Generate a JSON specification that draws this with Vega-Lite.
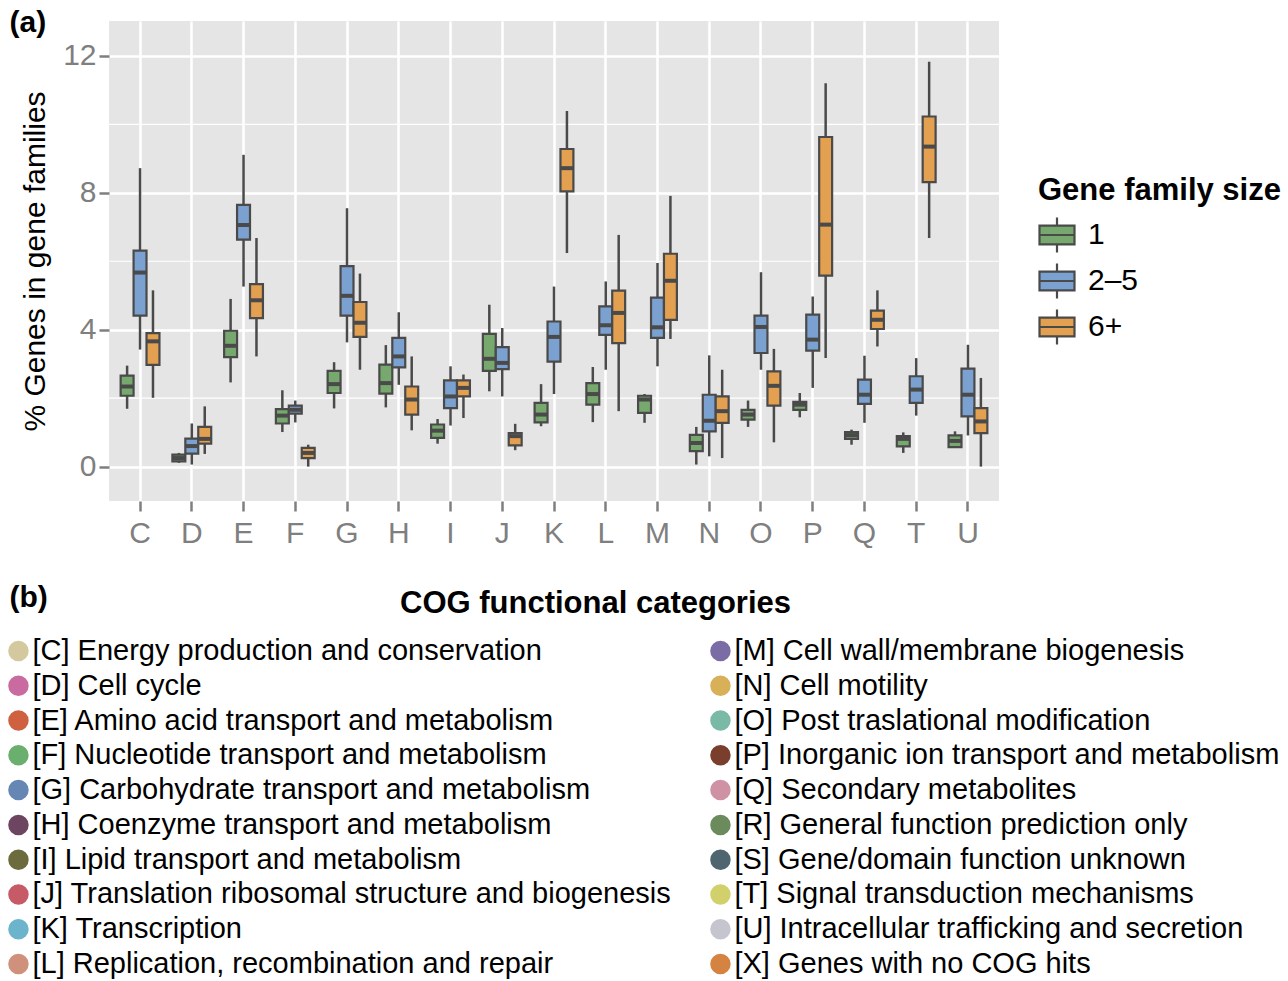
{
  "$schema": "https://vega.github.io/schema/vega-lite/v6.json",
  "padding": {"left": 8, "top": 7, "right": 2, "bottom": 2},
  "autosize": {"type": "pad"},
  "background": "white",
  "columns": 1,
  "spacing": 34,
  "datasets": {
    "boxes": [
      {"cat": "C", "size": "1", "lo": 1.69, "q1": 2.07, "med": 2.34, "q3": 2.66, "hi": 2.95},
      {"cat": "C", "size": "2–5", "lo": 3.42, "q1": 4.41, "med": 5.67, "q3": 6.31, "hi": 8.72},
      {"cat": "C", "size": "6+", "lo": 2.01, "q1": 2.97, "med": 3.66, "q3": 3.9, "hi": 5.15},
      {"cat": "D", "size": "1", "lo": 0.11, "q1": 0.15, "med": 0.25, "q3": 0.35, "hi": 0.4},
      {"cat": "D", "size": "2–5", "lo": 0.06, "q1": 0.38, "med": 0.6, "q3": 0.82, "hi": 1.26},
      {"cat": "D", "size": "6+", "lo": 0.37, "q1": 0.67, "med": 0.81, "q3": 1.16, "hi": 1.76},
      {"cat": "E", "size": "1", "lo": 2.46, "q1": 3.2, "med": 3.53, "q3": 3.97, "hi": 4.9},
      {"cat": "E", "size": "2–5", "lo": 5.26, "q1": 6.63, "med": 7.06, "q3": 7.65, "hi": 9.11},
      {"cat": "E", "size": "6+", "lo": 3.22, "q1": 4.34, "med": 4.86, "q3": 5.33, "hi": 6.68},
      {"cat": "F", "size": "1", "lo": 1.01, "q1": 1.26, "med": 1.49, "q3": 1.68, "hi": 2.23},
      {"cat": "F", "size": "2–5", "lo": 1.29, "q1": 1.55, "med": 1.66, "q3": 1.78, "hi": 1.93},
      {"cat": "F", "size": "6+", "lo": 0.0, "q1": 0.25, "med": 0.4, "q3": 0.55, "hi": 0.64},
      {"cat": "G", "size": "1", "lo": 1.7, "q1": 2.15, "med": 2.41, "q3": 2.8, "hi": 3.05},
      {"cat": "G", "size": "2–5", "lo": 3.63, "q1": 4.41, "med": 4.99, "q3": 5.86, "hi": 7.55},
      {"cat": "G", "size": "6+", "lo": 2.83, "q1": 3.79, "med": 4.2, "q3": 4.81, "hi": 5.64},
      {"cat": "H", "size": "1", "lo": 1.73, "q1": 2.13, "med": 2.44, "q3": 2.98, "hi": 3.55},
      {"cat": "H", "size": "2–5", "lo": 2.39, "q1": 2.9, "med": 3.22, "q3": 3.76, "hi": 4.51},
      {"cat": "H", "size": "6+", "lo": 1.06, "q1": 1.52, "med": 1.96, "q3": 2.34, "hi": 3.22},
      {"cat": "I", "size": "1", "lo": 0.67, "q1": 0.84, "med": 1.05, "q3": 1.23, "hi": 1.39},
      {"cat": "I", "size": "2–5", "lo": 1.2, "q1": 1.71, "med": 2.05, "q3": 2.52, "hi": 2.93},
      {"cat": "I", "size": "6+", "lo": 1.42, "q1": 2.05, "med": 2.3, "q3": 2.52, "hi": 2.69},
      {"cat": "J", "size": "1", "lo": 2.2, "q1": 2.8, "med": 3.15, "q3": 3.88, "hi": 4.73},
      {"cat": "J", "size": "2–5", "lo": 2.05, "q1": 2.85, "med": 3.03, "q3": 3.49, "hi": 4.05},
      {"cat": "J", "size": "6+", "lo": 0.48, "q1": 0.62, "med": 0.89, "q3": 0.98, "hi": 1.25},
      {"cat": "K", "size": "1", "lo": 1.18, "q1": 1.29, "med": 1.52, "q3": 1.86, "hi": 2.41},
      {"cat": "K", "size": "2–5", "lo": 2.12, "q1": 3.07, "med": 3.79, "q3": 4.24, "hi": 5.26},
      {"cat": "K", "size": "6+", "lo": 6.24, "q1": 8.04, "med": 8.72, "q3": 9.28, "hi": 10.39},
      {"cat": "L", "size": "1", "lo": 1.3, "q1": 1.81, "med": 2.12, "q3": 2.44, "hi": 2.91},
      {"cat": "L", "size": "2–5", "lo": 2.83, "q1": 3.85, "med": 4.13, "q3": 4.68, "hi": 5.41},
      {"cat": "L", "size": "6+", "lo": 1.62, "q1": 3.61, "med": 4.49, "q3": 5.14, "hi": 6.77},
      {"cat": "M", "size": "1", "lo": 1.28, "q1": 1.57, "med": 1.96, "q3": 2.07, "hi": 2.12},
      {"cat": "M", "size": "2–5", "lo": 2.93, "q1": 3.76, "med": 4.07, "q3": 4.94, "hi": 5.95},
      {"cat": "M", "size": "6+", "lo": 3.73, "q1": 4.29, "med": 5.43, "q3": 6.22, "hi": 7.91},
      {"cat": "N", "size": "1", "lo": 0.06, "q1": 0.45, "med": 0.69, "q3": 0.93, "hi": 1.16},
      {"cat": "N", "size": "2–5", "lo": 0.3, "q1": 1.03, "med": 1.34, "q3": 2.1, "hi": 3.25},
      {"cat": "N", "size": "6+", "lo": 0.25, "q1": 1.28, "med": 1.62, "q3": 2.05, "hi": 2.83},
      {"cat": "O", "size": "1", "lo": 1.16, "q1": 1.37, "med": 1.52, "q3": 1.66, "hi": 1.93},
      {"cat": "O", "size": "2–5", "lo": 2.83, "q1": 3.32, "med": 4.08, "q3": 4.41, "hi": 5.68},
      {"cat": "O", "size": "6+", "lo": 0.71, "q1": 1.78, "med": 2.36, "q3": 2.78, "hi": 3.44},
      {"cat": "P", "size": "1", "lo": 1.44, "q1": 1.66, "med": 1.81, "q3": 1.89, "hi": 2.15},
      {"cat": "P", "size": "2–5", "lo": 2.3, "q1": 3.39, "med": 3.71, "q3": 4.44, "hi": 4.97},
      {"cat": "P", "size": "6+", "lo": 3.17, "q1": 5.58, "med": 7.07, "q3": 9.63, "hi": 11.2},
      {"cat": "Q", "size": "1", "lo": 0.64, "q1": 0.81, "med": 0.92, "q3": 1.01, "hi": 1.08},
      {"cat": "Q", "size": "2–5", "lo": 1.28, "q1": 1.83, "med": 2.1, "q3": 2.54, "hi": 3.24},
      {"cat": "Q", "size": "6+", "lo": 3.51, "q1": 4.02, "med": 4.29, "q3": 4.56, "hi": 5.15},
      {"cat": "T", "size": "1", "lo": 0.4, "q1": 0.59, "med": 0.81, "q3": 0.89, "hi": 1.0},
      {"cat": "T", "size": "2–5", "lo": 1.49, "q1": 1.86, "med": 2.25, "q3": 2.64, "hi": 3.17},
      {"cat": "T", "size": "6+", "lo": 6.68, "q1": 8.31, "med": 9.35, "q3": 10.23, "hi": 11.83},
      {"cat": "U", "size": "1", "lo": 0.57, "q1": 0.57, "med": 0.75, "q3": 0.91, "hi": 1.03},
      {"cat": "U", "size": "2–5", "lo": 0.91, "q1": 1.47, "med": 2.1, "q3": 2.86, "hi": 3.56},
      {"cat": "U", "size": "6+", "lo": 0.0, "q1": 0.98, "med": 1.32, "q3": 1.71, "hi": 2.59}
    ],
    "cog": [
      {"code": "C", "label": "[C] Energy production and conservation", "col": 0, "row": 0},
      {"code": "D", "label": "[D] Cell cycle", "col": 0, "row": 1},
      {"code": "E", "label": "[E] Amino acid transport and metabolism", "col": 0, "row": 2},
      {"code": "F", "label": "[F] Nucleotide transport and metabolism", "col": 0, "row": 3},
      {"code": "G", "label": "[G] Carbohydrate transport and metabolism", "col": 0, "row": 4},
      {"code": "H", "label": "[H] Coenzyme transport and metabolism", "col": 0, "row": 5},
      {"code": "I", "label": "[I] Lipid transport and metabolism", "col": 0, "row": 6},
      {"code": "J", "label": "[J] Translation ribosomal structure and biogenesis", "col": 0, "row": 7},
      {"code": "K", "label": "[K] Transcription", "col": 0, "row": 8},
      {"code": "L", "label": "[L] Replication, recombination and repair", "col": 0, "row": 9},
      {"code": "M", "label": "[M] Cell wall/membrane biogenesis", "col": 1, "row": 0},
      {"code": "N", "label": "[N] Cell motility", "col": 1, "row": 1},
      {"code": "O", "label": "[O] Post traslational modification", "col": 1, "row": 2},
      {"code": "P", "label": "[P] Inorganic ion transport and metabolism", "col": 1, "row": 3},
      {"code": "Q", "label": "[Q] Secondary metabolites", "col": 1, "row": 4},
      {"code": "R", "label": "[R] General function prediction only", "col": 1, "row": 5},
      {"code": "S", "label": "[S] Gene/domain function unknown", "col": 1, "row": 6},
      {"code": "T", "label": "[T] Signal transduction mechanisms", "col": 1, "row": 7},
      {"code": "U", "label": "[U] Intracellular trafficking and secretion", "col": 1, "row": 8},
      {"code": "X", "label": "[X] Genes with no COG hits", "col": 1, "row": 9}
    ],
    "minor": [{"m": 2}, {"m": 6}, {"m": 10}]
  },
  "concat": [
    {
      "width": 890,
      "height": 480,
      "view": {"fill": "#e5e5e5", "stroke": null},
      "encoding": {
        "x": {
          "field": "cat", "type": "nominal",
          "scale": {"type": "band", "paddingInner": 0.25, "paddingOuter": 0.225},
          "axis": {
            "title": "(a)", "titleX": -100, "titleY": -470, "titleAlign": "left", "titleBaseline": "alphabetic",
            "titleAngle": 0, "titleFontSize": 30, "titleFontWeight": "bold", "titleColor": "black",
            "labelAngle": 0, "labelFontSize": 30, "labelColor": "#7f7f7f", "labelPadding": 7,
            "tickSize": 10, "tickWidth": 2.5, "tickColor": "#7f7f7f",
            "domain": false, "grid": true, "gridColor": "white", "gridWidth": 2.5
          }
        },
        "xOffset": {"field": "size", "type": "nominal", "scale": {"domain": ["1", "2–5", "6+"], "paddingInner": 0, "paddingOuter": 0}},
        "y": {
          "type": "quantitative",
          "scale": {"domain": [-1.005, 13.02], "nice": false, "zero": false},
          "axis": {
            "title": "% Genes in gene families", "titleFontSize": 30, "titleFontWeight": "normal", "titleColor": "black", "titlePadding": 12,
            "values": [0, 4, 8, 12], "labelFontSize": 30, "labelColor": "#7f7f7f", "labelPadding": 3,
            "tickSize": 10, "tickWidth": 2.5, "tickColor": "#7f7f7f",
            "domain": false, "grid": true, "gridColor": "white", "gridWidth": 2.5
          }
        }
      },
      "layer": [
        {
          "data": {"name": "minor"},
          "mark": {"type": "rule", "color": "white", "strokeWidth": 1.2},
          "encoding": {"y": {"field": "m", "type": "quantitative"}, "x": null, "xOffset": null}
        },
        {
          "data": {"name": "boxes"},
          "mark": {"type": "rule", "color": "#4a4a4a", "strokeWidth": 2.5},
          "encoding": {"y": {"field": "lo", "type": "quantitative"}, "y2": {"field": "hi"}}
        },
        {
          "data": {"name": "boxes"},
          "mark": {"type": "bar", "stroke": "#4a4a4a", "strokeWidth": 2.2, "opacity": 1},
          "encoding": {
            "y": {"field": "q1", "type": "quantitative"},
            "y2": {"field": "q3"},
            "fill": {
              "field": "size", "type": "nominal",
              "scale": {"domain": ["1", "2–5", "6+"], "range": ["#77a96e", "#7aa1d0", "#e2a050"]},
              "legend": {
                "title": "Gene family size", "orient": "none", "legendX": 929, "legendY": 155,
                "titleFontSize": 31, "titleFontWeight": "bold", "titleColor": "black", "titlePadding": 9, "titleLimit": 400,
                "labelFontSize": 30, "labelColor": "black", "labelOffset": 12, "labelLimit": 200,
                "symbolType": "M-1,-0.54H1V0.54H-1Z M-1,0H1 M0,-0.54V-1 M0,0.54V1",
                "symbolSize": 1225, "symbolStrokeColor": "#4a4a4a", "symbolStrokeWidth": 2.2, "symbolOpacity": 1,
                "rowPadding": 2
              }
            }
          }
        },
        {
          "data": {"name": "boxes"},
          "mark": {"type": "tick", "color": "#4a4a4a", "thickness": 4, "size": 13, "opacity": 1},
          "encoding": {"y": {"field": "med", "type": "quantitative"}}
        }
      ]
    },
    {
      "width": 702,
      "height": 313,
      "data": {"name": "cog"},
      "encoding": {
        "x": {
          "field": "col", "type": "quantitative",
          "scale": {"domain": [0.129, 1.129], "nice": false, "zero": false},
          "axis": {
            "orient": "top", "title": "COG functional categories", "titleX": 486, "titleY": -39,
            "titleAlign": "center", "titleBaseline": "alphabetic", "titleFontSize": 31, "titleFontWeight": "bold", "titleColor": "black",
            "labels": false, "ticks": false, "domain": false, "grid": false
          }
        },
        "y": {
          "field": "row", "type": "quantitative",
          "scale": {"domain": [0, 9], "nice": false, "zero": false, "reverse": true},
          "axis": {
            "title": "(b)", "titleAngle": 0, "titleX": -100, "titleY": -45, "titleAlign": "left", "titleBaseline": "alphabetic",
            "titleFontSize": 30, "titleFontWeight": "bold", "titleColor": "black",
            "labels": false, "ticks": false, "domain": false, "grid": false
          }
        }
      },
      "layer": [
        {
          "mark": {"type": "point", "filled": true, "shape": "circle", "size": 420, "opacity": 1},
          "encoding": {
            "color": {
              "field": "code", "type": "nominal", "legend": null,
              "scale": {
                "domain": ["C", "D", "E", "F", "G", "H", "I", "J", "K", "L", "M", "N", "O", "P", "Q", "R", "S", "T", "U", "X"],
                "range": ["#d4c99e", "#c96ba0", "#cf6141", "#6aaf6e", "#6686b3", "#6d4560", "#6b6b3e", "#c75a67", "#6cb3cc", "#cf917b", "#7b6ca5", "#d8b058", "#7ab9a6", "#7a3e2c", "#cf92a5", "#6b8b5c", "#4f6671", "#d2d06a", "#c5c5d0", "#d48440"]
              }
            }
          }
        },
        {
          "mark": {"type": "text", "align": "left", "baseline": "middle", "dx": 14, "fontSize": 29, "color": "black"},
          "encoding": {"text": {"field": "label", "type": "nominal"}}
        }
      ]
    }
  ],
  "config": {
    "font": "Liberation Sans",
    "view": {"stroke": null},
    "axis": {"titleFont": "Liberation Sans", "labelFont": "Liberation Sans"},
    "legend": {"titleFont": "Liberation Sans", "labelFont": "Liberation Sans"},
    "text": {"font": "Liberation Sans"}
  }
}
